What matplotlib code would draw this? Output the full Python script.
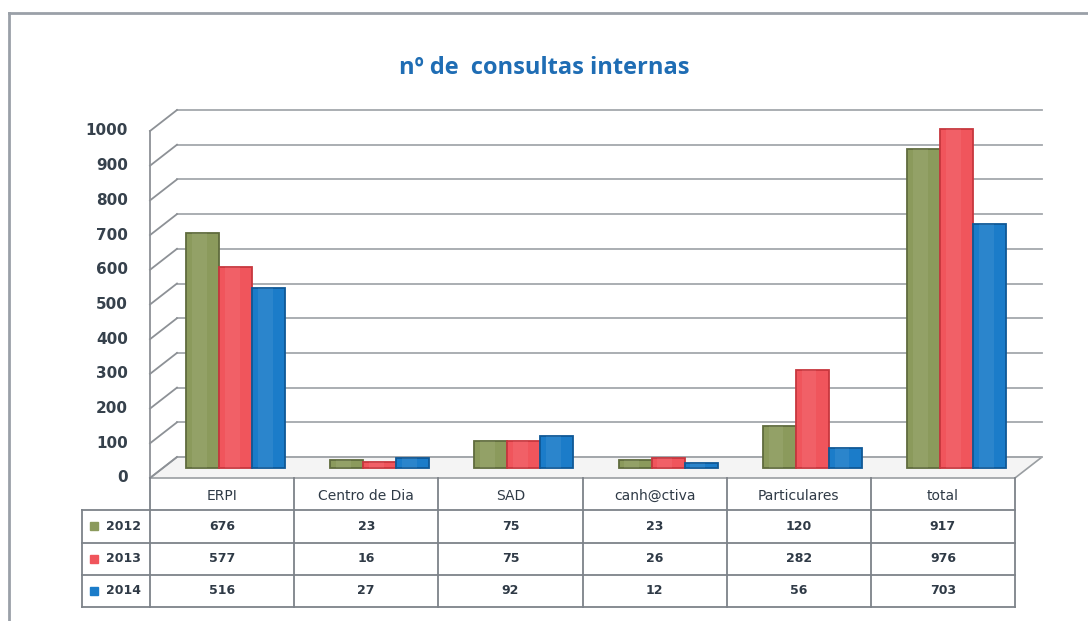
import numpy as np
import matplotlib
matplotlib.use('Agg')
import matplotlib.pyplot as plt

# data
categories = ['ERPI', 'Centro de Dia', 'SAD', 'canh@ctiva', 'Particulares', 'total']
years = ['2012', '2013', '2014']
v2012 = [676, 23, 75, 23, 120, 917]
v2013 = [577, 16, 75, 26, 282, 976]
v2014 = [516, 27, 92, 12, 56, 703]
yticks = [0, 100, 200, 300, 400, 500, 600, 700, 800, 900, 1000]

series = [v2012, v2013, v2014]
colors = ['#8b9a5c', '#f0555c', '#1b7cc9']
edges = ['#5f6b3d', '#c7373e', '#0f5896']
txt_col = '#2f3a46'

W, H = 1088, 621
fig = plt.figure(figsize=(W / 100, H / 100), dpi=100)
fig.patch.set_facecolor('white')

# outer frame (top and left only visible)
fig.add_artist(plt.Line2D([9 / W, 9 / W], [0, 1 - 13 / H], color='#9aa0a8', lw=2))
fig.add_artist(plt.Line2D([9 / W, 1], [1 - 13 / H, 1 - 13 / H], color='#9aa0a8', lw=2))

# front plane of the 3d box: x 150..1015 px, y 478 (0) .. 131 (1000)
x0, x1, yb, yt = 150, 1015, 478, 131
ax = fig.add_axes([x0 / W, 1 - yb / H, (x1 - x0) / W, (yb - yt) / H])
ax.set_xlim(-0.5, 5.5)
ax.set_ylim(0, 1000)
ax.axis('off')

# depth offset of back wall in data units
px_x = (x1 - x0) / 6.0
px_y = (yb - yt) / 1000.0
DX = 27 / px_x
DY = 21 / px_y

grid_c = '#a4a8ac'
# floor
ax.fill([-0.5, 5.5, 5.5 + DX, -0.5 + DX], [0, 0, DY, DY], color='#f4f4f4',
        ec='#9a9ea2', lw=1.2, clip_on=False, zorder=1)
# back wall grid lines and left wall diagonals
for v in yticks:
    ax.plot([-0.5 + DX, 5.5 + DX], [v + DY, v + DY], color=grid_c, lw=1.3,
            clip_on=False, zorder=1)
    ax.plot([-0.5, -0.5 + DX], [v, v + DY], color='#8d9196', lw=1.3,
            clip_on=False, zorder=1)
ax.plot([-0.5, -0.5], [0, 1000], color='#8d9196', lw=1.3, clip_on=False, zorder=2)

# bars
bw = 33 / px_x
x = np.arange(len(categories))
for k, vals in enumerate(series):
    xs = x + (k - 1) * bw + DX / 2
    ax.bar(xs, vals, width=bw, bottom=DY / 2, color=colors[k], edgecolor=edges[k],
           lw=1.3, zorder=3, clip_on=False)
    # soft highlight to suggest a rounded column
    ax.bar(xs - bw * 0.1, vals, width=bw * 0.45, bottom=DY / 2, color='white',
           alpha=0.07, lw=0, zorder=4, clip_on=False)

for v in yticks:
    ax.text(-0.5 - 22 / px_x, v, str(v), ha='right', va='center', fontsize=11,
            fontweight='bold', color='#36414c', family='DejaVu Sans')

# title
fig.text(0.5, 1 - 68 / H, 'nº de  consultas internas', ha='center', va='center',
         fontsize=17, fontweight='bold', color='#1f6db4', family='Open Sans')

# data table under the chart
tl = 82
tb = 607
tax = fig.add_axes([tl / W, 1 - tb / H, (x1 - tl) / W, (tb - yb) / H])
lab_w = (x0 - tl) / px_x
tax.set_xlim(-0.5 - lab_w, 5.5)
tax.set_ylim(4, 0)
tax.axis('off')
line_c = '#7d8289'
for i in range(7):
    tax.plot([i - 0.5, i - 0.5], [0, 4], color=line_c, lw=1.3, clip_on=False)
tax.plot([-0.5 - lab_w, -0.5 - lab_w], [1, 4], color=line_c, lw=1.3, clip_on=False)
for r in range(1, 5):
    tax.plot([-0.5 - lab_w, 5.5], [r, r], color=line_c, lw=1.3, clip_on=False)

for i, c in enumerate(categories):
    tax.text(i, 0.55, c, ha='center', va='center', fontsize=10, color=txt_col,
             family='DejaVu Sans')
for r, vals in enumerate(series):
    for i, v in enumerate(vals):
        tax.text(i, r + 1.5, str(v), ha='center', va='center', fontsize=9,
                 fontweight='bold', color=txt_col, family='DejaVu Sans')
    tax.plot([-0.5 - lab_w + 0.08], [r + 1.5], marker='s', ms=6, color=colors[r],
             ls='none')
    tax.text(-0.5 - lab_w / 2 + 0.05, r + 1.5, years[r], ha='center', va='center',
             fontsize=9, fontweight='bold', color=txt_col, family='DejaVu Sans')

fig.savefig('out.png', dpi=100)
